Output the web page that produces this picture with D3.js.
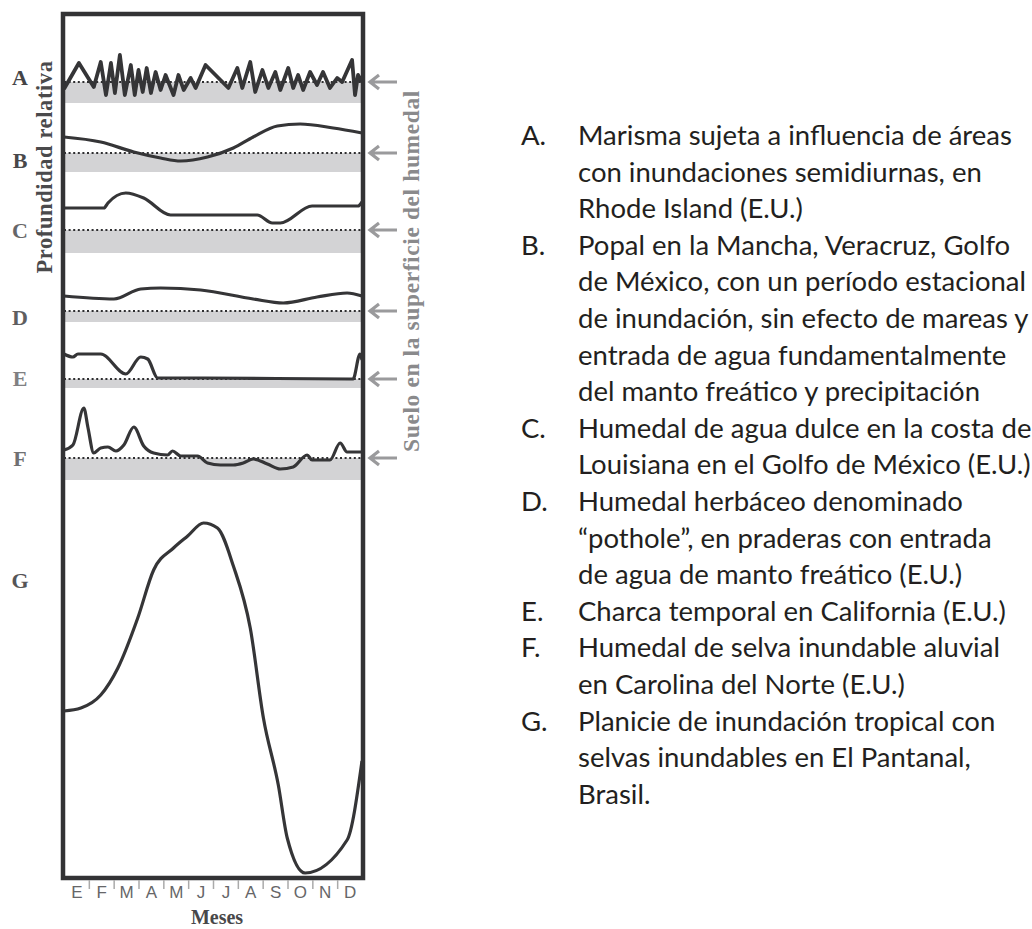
<!DOCTYPE html>
<html>
<head>
<meta charset="utf-8">
<script src="https://cdn.jsdelivr.net/npm/d3@7"></script>
<style>
  body { margin: 0; background: #fff; }
  svg { display: block; }
</style>
</head>
<body>
<svg id="chart" width="1032" height="929"></svg>
<script>
// months on the x axis (E = enero ... D = diciembre)
var monthLabels = ["E", "F", "M", "A", "M", "J", "J", "A", "S", "O", "N", "D"];
var panelNames = ["A", "B", "C", "D", "E", "F", "G"];

// water level per panel, month (0..12) and level relative to soil surface (same units for all)
var monthsA = [0, 0.6, 1.2, 1.48, 1.69, 1.89, 2.05, 2.25, 2.45, 2.69, 2.85, 3.0, 3.17, 3.33, 3.5, 3.69, 3.89, 4.09, 4.41, 4.61, 4.82, 5.1, 5.3, 5.7, 6.62, 6.98, 7.18, 7.5, 7.7, 7.99, 8.23, 8.51, 8.71, 9.03, 9.23, 9.43, 9.63, 9.91, 10.19, 10.43, 10.71, 11.0, 11.2, 11.6, 11.72, 11.84, 12];
var levelsA = [-7, 19, -5, 20, -13, 19, -11, 27, -13, 17, -13, 12, -10, 14, -11, 10, -8, 7, -13, 7, -8, 4, -6, 17, -6, 14, -6, 20, -10, 12, -6, 10, -8, 14, -6, 7, -8, 10, -3, 10, -6, 4, 0, 22, -13, 7, 0];

var monthsB = [0, 1.48, 2.81, 3.89, 4.7, 5.78, 6.82, 7.62, 8.59, 9.51, 10.84, 12];
var levelsB = [16, 11, 1, -5, -8, -4, 5, 16, 27, 29, 25, 20];

var monthsC = [0, 1.61, 1.77, 2.49, 3.21, 4.29, 7.78, 8.39, 8.71, 9.99, 11.84, 12];
var levelsC = [22, 22, 27, 37, 32, 15, 15, 7, 7, 24, 24, 28];

var monthsD = [0, 2.01, 3.09, 3.89, 5.5, 7.62, 8.83, 10.19, 11.4, 12];
var levelsD = [15, 12, 22, 23, 21, 12, 8, 14, 18, 15];

var monthsE = [0, 0.36, 0.56, 1.48, 2.49, 3.09, 3.37, 3.77, 5.5, 11.64, 11.92, 12];
var levelsE = [25, 22, 25, 25, 5, 22, 20, 1, 1, 0, 25, 19];

var monthsF = [0, 0.36, 0.8, 0.96, 1.2, 1.48, 1.77, 2.09, 2.41, 2.81, 3.21, 3.61, 4.17, 4.37, 4.7, 5.38, 5.78, 6.3, 6.82, 7.22, 7.62, 8.19, 8.71, 9.23, 9.79, 9.99, 10.71, 11.12, 11.4, 12];
var levelsF = [8, 13, 50, 31, 5, 10, 11, 7, 13, 31, 12, 5, 3, 7, 2, 2, -5, -7, -7, -5, -1, -6, -11, -9, 3, -2, -2, 15, 6, 6];

var monthsG = [0, 0.68, 1.48, 2.17, 2.97, 3.61, 4.41, 4.98, 5.62, 6.18, 6.82, 7.5, 8.03, 8.63, 8.99, 9.71, 11.4, 12];
var levelsG = [167, 170, 183, 210, 260, 308, 330, 342, 355, 350, 312, 250, 160, 93, 40, 5, 38, 117];

// depth of the grey soil band under the surface line (G has none)
var soilDepth = [21, 19, 23, 11, 9, 22, 0];

var descLetters = ["A.", "B.", "C.", "D.", "E.", "F.", "G."];
var descLines = [
  ["Marisma sujeta a influencia de áreas", "con inundaciones semidiurnas, en", "Rhode Island (E.U.)"],
  ["Popal en la Mancha, Veracruz, Golfo", "de México, con un período estacional", "de inundación, sin efecto de mareas y", "entrada de agua fundamentalmente", "del manto freático y precipitación"],
  ["Humedal de agua dulce en la costa de", "Louisiana en el Golfo de México (E.U.)"],
  ["Humedal herbáceo denominado", "“pothole”, en praderas con entrada", "de agua de manto freático (E.U.)"],
  ["Charca temporal en California (E.U.)"],
  ["Humedal de selva inundable aluvial", "en Carolina del Norte (E.U.)"],
  ["Planicie de inundación tropical con", "selvas inundables en El Pantanal,", "Brasil."]
];

function drawChart(){
    var svg = d3.select("#chart");
    var frame = {left: 63, right: 363, top: 14, bottom: 878};
    // y position (px) of each panel's zero level
    var surfaceY = [82, 153, 230, 311, 379, 458, 878];
    var labelColors = ["#444446", "#48484a", "#666668", "#5e5e60", "#808082", "#707072", "#555557"];

    var x = d3.scaleLinear().domain([0, 12]).range([frame.left + 1, frame.right - 1]);

    var series = [
        [monthsA, levelsA], [monthsB, levelsB], [monthsC, levelsC], [monthsD, levelsD],
        [monthsE, levelsE], [monthsF, levelsF], [monthsG, levelsG]
    ];

    var g = svg.append("g");

    series.forEach(function(s, i){
        var base = surfaceY[i];
        var y = d3.scaleLinear().domain([0, 100]).range([base, base - 100]);

        if (soilDepth[i] > 0) {
            g.append("rect")
                .attr("x", x(0))
                .attr("y", y(0))
                .attr("width", x(12) - x(0))
                .attr("height", y(-soilDepth[i]) - y(0))
                .attr("fill", "#d3d3d5");

            g.append("line")
                .attr("x1", x(0)).attr("x2", x(12))
                .attr("y1", y(0)).attr("y2", y(0))
                .attr("stroke", "#2e2e30")
                .attr("stroke-width", 2)
                .attr("stroke-dasharray", "2,2.6");

            // arrow pointing at the soil surface
            g.append("path")
                .attr("d", "M" + (frame.right + 34) + "," + y(0) + "H" + (frame.right + 7)
                    + "M" + (frame.right + 16) + "," + (y(0) - 7) + "L" + (frame.right + 7) + "," + y(0)
                    + "L" + (frame.right + 16) + "," + (y(0) + 7))
                .attr("fill", "none")
                .attr("stroke", "#9a9a9c")
                .attr("stroke-width", 3.2);
        }

        var pts = s[0].map(function(m, j){ return {m: m, v: s[1][j]}; });
        var line = d3.line()
            .x(function(d){ return x(d.m); })
            .y(function(d){ return y(d.v); })
            .curve(i === 0 ? d3.curveLinear : d3.curveMonotoneX);

        g.append("path")
            .attr("d", line(pts))
            .attr("fill", "none")
            .attr("stroke", "#353537")
            .attr("stroke-width", i === 0 ? 3.8 : 3.2)
            .attr("stroke-linejoin", "round");

        var labelY = i === 6 ? 580 : base + [-5, 7, 0, 6, -1, 0][i];
        svg.append("text")
            .attr("x", 20)
            .attr("y", labelY)
            .attr("dy", "0.35em")
            .attr("text-anchor", "middle")
            .attr("font-family", "Liberation Serif, serif")
            .attr("font-weight", "bold")
            .attr("font-size", 22)
            .attr("fill", labelColors[i])
            .text(panelNames[i]);
    });

    // frame
    svg.append("rect")
        .attr("x", frame.left).attr("y", frame.top)
        .attr("width", frame.right - frame.left)
        .attr("height", frame.bottom - frame.top)
        .attr("fill", "none")
        .attr("stroke", "#333335")
        .attr("stroke-width", 4.5);

    // month boundaries as ticks, month letters centred between them
    var tickAxis = d3.axisBottom(x).tickValues(d3.range(1, 12)).tickSize(9).tickFormat("");
    var ta = svg.append("g").attr("transform", "translate(0," + (frame.bottom + 2) + ")").call(tickAxis);
    ta.select(".domain").remove();
    ta.selectAll("line").attr("stroke", "#aaa").attr("stroke-width", 1.5);

    var labelAxis = d3.axisBottom(x).tickValues(d3.range(0.5, 12, 1)).tickSize(0)
        .tickFormat(function(d){ return monthLabels[Math.floor(d)]; });
    var la = svg.append("g").attr("transform", "translate(0," + (frame.bottom + 2) + ")").call(labelAxis);
    la.select(".domain").remove();
    la.selectAll("text")
        .attr("y", 6)
        .attr("font-family", "Liberation Sans, Arial, sans-serif")
        .attr("font-size", 17)
        .attr("fill", "#666668");

    svg.append("text")
        .attr("x", 217)
        .attr("y", 924)
        .attr("text-anchor", "middle")
        .attr("font-family", "Liberation Serif, serif")
        .attr("font-weight", "bold")
        .attr("font-size", 20)
        .attr("fill", "#48484a")
        .text("Meses");

    svg.append("text")
        .attr("transform", "translate(52,167) rotate(-90)")
        .attr("text-anchor", "middle")
        .attr("font-family", "Liberation Serif, serif")
        .attr("font-weight", "bold")
        .attr("font-size", 22.5)
        .attr("letter-spacing", 0.6)
        .attr("fill", "#4a4a4c")
        .text("Profundidad relativa");

    svg.append("text")
        .attr("transform", "translate(419,271) rotate(-90)")
        .attr("text-anchor", "middle")
        .attr("font-family", "Liberation Serif, serif")
        .attr("font-weight", "bold")
        .attr("font-size", 23.5)
        .attr("letter-spacing", 0.6)
        .attr("fill", "#8a8a8c")
        .text("Suelo en la superficie del humedal");
}

function drawDescriptions(){
    var svg = d3.select("#chart");
    var lineH = 36.6;
    var row = 0;
    var t = svg.append("g")
        .attr("font-family", "Lato, sans-serif")
        .attr("font-size", 27.5)
        .attr("fill", "#231f20");
    descLines.forEach(function(lines, i){
        t.append("text")
            .attr("x", 521)
            .attr("y", 145 + row * lineH)
            .text(descLetters[i]);
        lines.forEach(function(l){
            t.append("text")
                .attr("x", 578)
                .attr("y", 145 + row * lineH)
                .text(l);
            row++;
        });
    });
}

drawChart();
drawDescriptions();
</script>
</body>
</html>
